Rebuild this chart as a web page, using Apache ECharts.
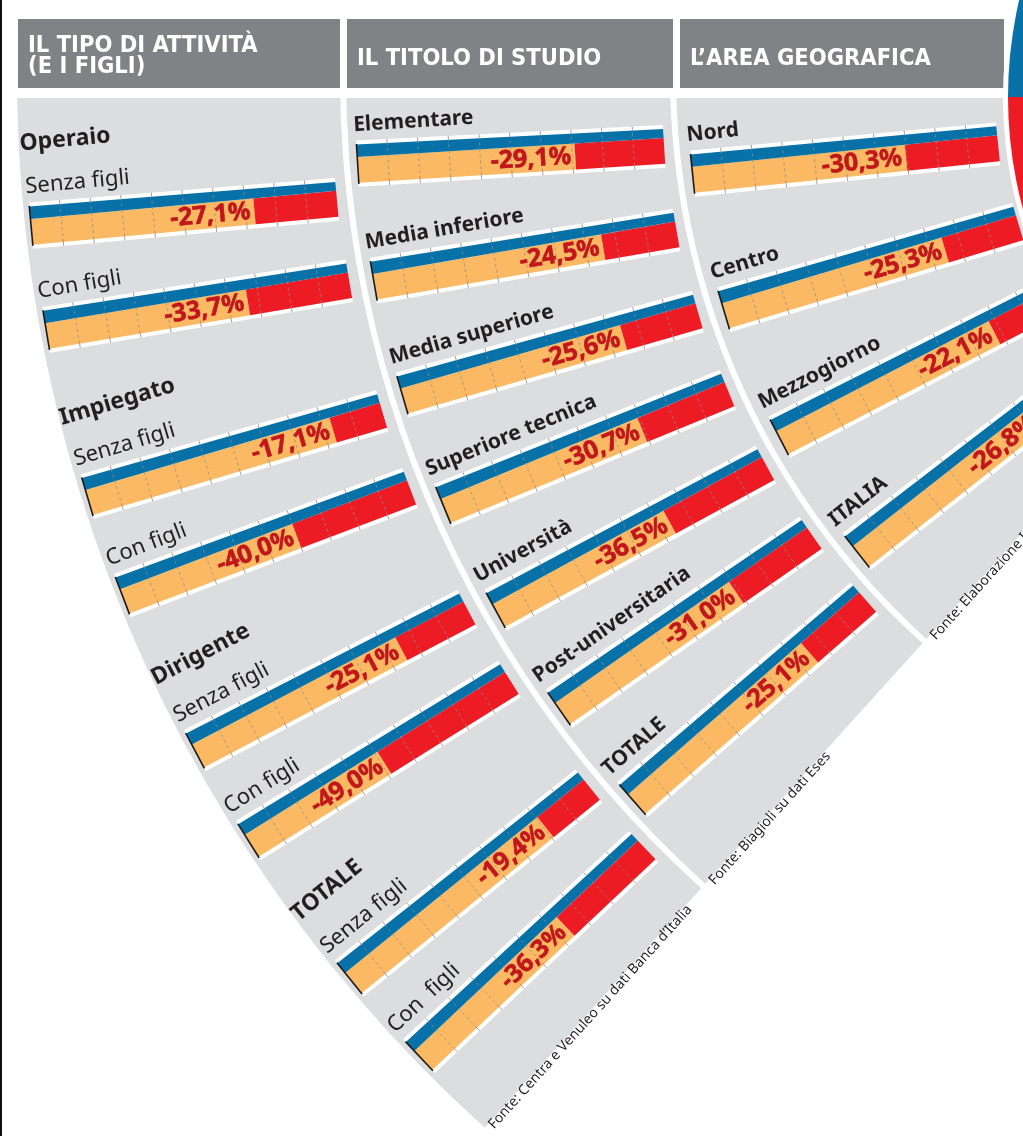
<!DOCTYPE html>
<html><head><meta charset="utf-8">
<script src="https://cdn.jsdelivr.net/npm/echarts@6/dist/echarts.min.js"></script>
<style>html,body{margin:0;padding:0;background:#fff}#chart{width:1023px;height:1136px}</style>
</head><body><div id="chart"></div>
<script>
// ---------------- data ----------------
const headerTitles = ['IL TIPO DI ATTIVITÀ\n(E I FIGLI)', 'IL TITOLO DI STUDIO', 'L’AREA GEOGRAFICA'];
const jobGroups = ['Operaio', 'Impiegato', 'Dirigente', 'TOTALE'];
const jobLabels = ['Senza figli', 'Con figli', 'Senza figli', 'Con figli', 'Senza figli', 'Con figli', 'Senza figli', 'Con  figli'];
const jobValues = [27.1, 33.7, 17.1, 40.0, 25.1, 49.0, 19.4, 36.3];
const eduLabels = ['Elementare', 'Media inferiore', 'Media superiore', 'Superiore tecnica', 'Università', 'Post-universitaria', 'TOTALE'];
const eduValues = [29.1, 24.5, 25.6, 30.7, 36.5, 31.0, 25.1];
const geoLabels = ['Nord', 'Centro', 'Mezzogiorno', 'ITALIA'];
const geoValues = [30.3, 25.3, 22.1, 26.8];
const sources = ['Fonte: Centra e Venuleo su dati Banca d’Italia', 'Fonte: Biagioli su dati Eses', 'Fonte: Elaborazione I'];
const scaleTicks = [10, 20, 30, 40, 50, 60, 70, 80, 90];

// ---------------- layout / style ----------------
const ARC_C = [1436, 75];   // centre of the panel arcs
const BAR_C = [1436, 97];   // point the bars are directed to
const BAR_LEN = 307;
const EDGE_TILT = 47.9;
const panels = [
  { outer: 1419, inner: 1096, start: 1413, tilt: i => 5.24 + 11.27 * Math.floor(i / 2) + 4.28 * (i % 2) },
  { outer: 1090, inner: 766, start: 1082, tilt: i => 3.55 + 6.27 * i },
  { outer: 760, inner: 434, start: 750, tilt: i => 5.9 + 10.75 * i }
];
const FONT = '"Noto Sans", "DejaVu Sans", sans-serif';
const COL = { blue: '#0872a8', orange: '#fbb963', red: '#ed1c24', pct: '#c0161c', text: '#231f20',
  panel: '#dcdddf', header: '#808285' };
const blueTop = v => 19.5 - 3.5 * v / 100;

function makeRender(pi, labels, groups, labelFont, labelSize) {
  const P = panels[pi];
  return function (params, api) {
    const i = params.dataIndex;
    const p = api.value(0);
    const ang = api.value(1);
    const a = api.coord([0, ang]), b = api.coord([100, ang]);
    let dx = b[0] - a[0], dy = b[1] - a[1];
    const L = Math.hypot(dx, dy); dx /= L; dy /= L;
    const nx = dy, ny = -dx;
    const wx = a[0] - ARC_C[0], wy = a[1] - ARC_C[1];
    const wd = wx * dx + wy * dy, ww = wx * wx + wy * wy;
    const s = -wd - Math.sqrt(Math.max(0, wd * wd - ww + P.start * P.start));
    const pt = (v, off) => { const c = api.coord([v, ang]); return [c[0] + s * dx + off * nx, c[1] + s * dy + off * ny]; };
    const rot = Math.atan2(-dy, dx);
    const split = 100 - p;
    const bt0 = blueTop(0), bt1 = blueTop(100);
    const ch = [];
    ch.push({ type: 'polygon', shape: { points: [pt(0, -23), pt(100, -23), pt(100, bt1 + 4), pt(0, bt0 + 4)] }, style: { fill: '#ffffff' } });
    ch.push({ type: 'polygon', shape: { points: [pt(0, -19), pt(split, -19), pt(split, 7), pt(0, 7)] }, style: { fill: COL.orange } });
    ch.push({ type: 'polygon', shape: { points: [pt(split, -19), pt(100, -19), pt(100, 7), pt(split, 7)] }, style: { fill: COL.red } });
    ch.push({ type: 'polygon', shape: { points: [pt(0, 7), pt(100, 7), pt(100, bt1), pt(0, bt0)] }, style: { fill: COL.blue } });
    scaleTicks.forEach(v => {
      const bt = blueTop(v);
      const t1 = pt(v, -23), t2 = pt(v, -19), t3 = pt(v, bt), t4 = pt(v, bt + 4);
      ch.push({ type: 'line', shape: { x1: t1[0], y1: t1[1], x2: t2[0], y2: t2[1] }, style: { stroke: '#a0a0a0', lineWidth: 1 } });
      ch.push({ type: 'line', shape: { x1: t3[0], y1: t3[1], x2: t4[0], y2: t4[1] }, style: { stroke: '#a0a0a0', lineWidth: 1 } });
      ch.push({ type: 'line', shape: { x1: t2[0], y1: t2[1], x2: t3[0], y2: t3[1] }, style: { stroke: 'rgba(140,140,140,0.75)', lineWidth: 1, lineDash: [3, 3] } });
    });
    const b1 = pt(0, -20), b2 = pt(0, bt0 + 0.5);
    ch.push({ type: 'line', shape: { x1: b1[0], y1: b1[1], x2: b2[0], y2: b2[1] }, style: { stroke: '#1a1a1a', lineWidth: 1.6 } });
    const tp = pt(split, -6);
    ch.push({ type: 'text', x: tp[0] - 4 * dx, y: tp[1] - 4 * dy, rotation: rot,
      style: { text: '-' + p.toFixed(1).replace('.', ',') + '%', fill: COL.pct, stroke: COL.pct, lineWidth: 0.6,
        font: 'bold 25px ' + FONT, align: 'right', verticalAlign: 'middle' } });
    const lp = pt(0, bt0 + 12 + 0.35 * labelSize);
    ch.push({ type: 'text', x: lp[0] - 2 * dx, y: lp[1] - 2 * dy, rotation: rot,
      style: { text: labels[i], fill: COL.text, font: labelFont, align: 'left', verticalAlign: 'middle' } });
    if (groups && i % 2 === 0) {
      const gp = pt(0, bt0 + 12 + 43 + 0.35 * 23);
      ch.push({ type: 'text', x: gp[0] - 4 * dx, y: gp[1] - 4 * dy, rotation: rot,
        style: { text: groups[i / 2], fill: COL.text, font: 'bold 23px ' + FONT, align: 'left', verticalAlign: 'middle' } });
    }
    return { type: 'group', children: ch };
  };
}

const valueSets = [jobValues, eduValues, geoValues];
const labelSets = [jobLabels, eduLabels, geoLabels];
const polar = panels.map(P => ({ center: BAR_C, radius: [P.start - BAR_LEN, P.start] }));
const hidden = { show: false, axisLine: { show: false }, axisTick: { show: false }, axisLabel: { show: false }, splitLine: { show: false }, splitArea: { show: false } };
const angleAxis = panels.map((P, k) => Object.assign({ polarIndex: k, type: 'value', min: 0, max: 360, startAngle: 0, clockwise: false }, hidden));
const radiusAxis = panels.map((P, k) => Object.assign({ polarIndex: k, type: 'value', min: 0, max: 100, inverse: true }, hidden));
const series = panels.map((P, k) => ({
  type: 'custom', coordinateSystem: 'polar', polarIndex: k, silent: true, z: 5,
  data: valueSets[k].map((v, i) => [v, 180 + P.tilt(i)]),
  renderItem: makeRender(k, labelSets[k], k === 0 ? jobGroups : null,
    k === 0 ? '22px ' + FONT : 'bold 21px ' + FONT, k === 0 ? 22 : 21)
}));

// ------------- decoration (panels, headers, sources) -------------
const deg = Math.PI / 180;
const graphics = [];
panels.forEach(P => {
  graphics.push({ type: 'sector', z: 0, silent: true,
    shape: { cx: ARC_C[0], cy: ARC_C[1], r0: P.inner, r: P.outer, startAngle: (180 - EDGE_TILT) * deg, endAngle: 190 * deg, clockwise: true },
    style: { fill: COL.panel } });
});
graphics.push({ type: 'rect', z: 1, silent: true, shape: { x: 0, y: 0, width: 1023, height: 98 }, style: { fill: '#ffffff' } });
const boxes = [[18, 322], [347, 326], [680, 324]];
boxes.forEach((bx, k) => {
  graphics.push({ type: 'rect', z: 2, silent: true, shape: { x: bx[0], y: 19, width: bx[1], height: 69 }, style: { fill: COL.header } });
  graphics.push({ type: 'text', z: 3, silent: true, x: bx[0] + 10, y: k === 0 ? 56 : 58.5,
    style: { text: headerTitles[k], fill: '#ffffff', font: 'bold 23.5px "DejaVu Sans Condensed", "DejaVu Sans", sans-serif', lineHeight: 21, align: 'left', verticalAlign: 'middle' } });
});
// cut-off circle at top right
graphics.push({ type: 'sector', z: 3, silent: true, shape: { cx: 1436, cy: 97, r0: 428, r: 433, startAngle: 0, endAngle: 2 * Math.PI }, style: { fill: '#ffffff' } });
graphics.push({ type: 'sector', z: 3, silent: true, shape: { cx: 1436, cy: 97, r0: 0, r: 428, startAngle: Math.PI, endAngle: 2 * Math.PI }, style: { fill: COL.blue } });
graphics.push({ type: 'sector', z: 3, silent: true, shape: { cx: 1436, cy: 97, r0: 0, r: 428, startAngle: 0, endAngle: Math.PI }, style: { fill: COL.red } });
// sources along the lower straight edge
const st = EDGE_TILT * deg;
panels.forEach((P, k) => {
  const R = P.outer - 2;
  const ex = ARC_C[0] - R * Math.cos(st), ey = ARC_C[1] + R * Math.sin(st);
  const off = 9 - 0.35 * 14;
  graphics.push({ type: 'text', z: 3, silent: true, x: ex + off * Math.sin(st) + 3 * Math.cos(st), y: ey + off * Math.cos(st) - 3 * Math.sin(st), rotation: st,
    style: { text: sources[k], fill: COL.text, font: '14px ' + FONT, align: 'left', verticalAlign: 'middle' } });
});
graphics.push({ type: 'rect', z: 4, silent: true, shape: { x: 0, y: 0, width: 2, height: 1136 }, style: { fill: '#111111' } });

const chart = echarts.init(document.getElementById('chart'));
chart.setOption({
  animation: false,
  polar, angleAxis, radiusAxis, series,
  graphic: { elements: graphics }
});
</script>
</body></html>
